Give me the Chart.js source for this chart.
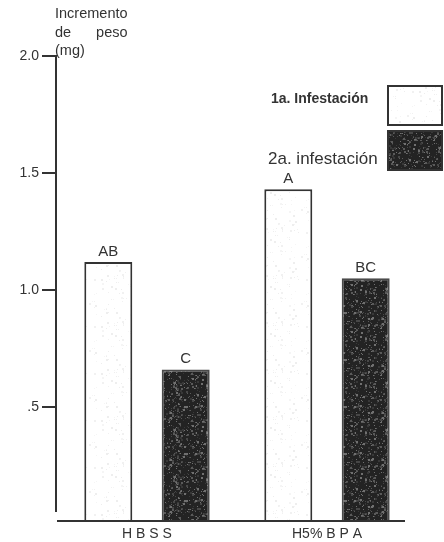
<!DOCTYPE html>
<html>
<head>
<meta charset="utf-8">
<script src="https://cdn.jsdelivr.net/npm/chart.js@4.4.1/dist/chart.umd.min.js"></script>
<style>
  html, body { margin: 0; padding: 0; background: #ffffff; }
  #chart { display: block; }
</style>
</head>
<body>
<canvas id="chart" width="444" height="542"></canvas>
<script>
// Weight gain (mg) per treatment, first and second infestation
const categories = ['H B S S', 'H5% B P A'];
const seriesNames = ['1a. Infestación', '2a. infestación'];
const firstInfestation = [1.12, 1.43];
const secondInfestation = [0.66, 1.05];
const firstLetters = ['AB', 'A'];
const secondLetters = ['C', 'BC'];
const yTicks = [0.5, 1.0, 1.5, 2.0];
const yTickLabels = ['.5', '1.0', '1.5', '2.0'];
const axisTitleLines = ['Incremento', 'de peso', '(mg)'];

const INK = '#333333';
const FONT = '"Liberation Sans", Arial, sans-serif';

// Grainy fill for bars and swatches (seeded so it is the same every time)
function speckle(base, shades, w, h, count, seed) {
  const c = document.createElement('canvas');
  c.width = w; c.height = h;
  const g = c.getContext('2d');
  g.fillStyle = base;
  g.fillRect(0, 0, w, h);
  let s = seed;
  const rnd = () => { s = (s * 16807) % 2147483647; return s / 2147483647; };
  for (let i = 0; i < count; i++) {
    g.fillStyle = shades[Math.floor(rnd() * shades.length)];
    const sz = rnd() < 0.7 ? 1 : 2;
    g.fillRect(Math.floor(rnd() * w), Math.floor(rnd() * h), sz, sz);
  }
  return g.createPattern(c, 'repeat');
}

const ctxEl = document.getElementById('chart');
const darkFill = speckle('#232323', ['#474747', '#5a5a5a', '#707070', '#383838'], 53, 47, 380, 12345);
const lightFill = speckle('#ffffff', ['#f1f1f1', '#eeeeee', '#f5f5f5'], 53, 47, 70, 777);

const decorations = {
  id: 'decorations',
  afterDatasetsDraw(chart) {
    const { ctx, chartArea } = chart;
    ctx.save();
    ctx.strokeStyle = INK;
    ctx.lineWidth = 2;
    // vertical axis
    ctx.beginPath();
    ctx.moveTo(chartArea.left - 1, chartArea.top - 1);
    ctx.lineTo(chartArea.left - 1, chartArea.bottom - 8);
    ctx.stroke();
    // baseline
    ctx.beginPath();
    ctx.moveTo(chartArea.left, chartArea.bottom + 1);
    ctx.lineTo(chartArea.right - 12, chartArea.bottom + 1);
    ctx.stroke();

    // axis title, middle line justified
    ctx.fillStyle = INK;
    ctx.font = '14.5px ' + FONT;
    ctx.textBaseline = 'middle';
    ctx.textAlign = 'left';
    const tx = 55, w0 = ctx.measureText(axisTitleLines[0]).width;
    ctx.fillText(axisTitleLines[0], tx, 14);
    const words = axisTitleLines[1].split(' ');
    ctx.fillText(words[0], tx, 33);
    ctx.textAlign = 'right';
    ctx.fillText(words[1], tx + w0, 33);
    ctx.textAlign = 'left';
    ctx.fillText(axisTitleLines[2], tx, 51);

    // group letters above bars
    ctx.font = '15px ' + FONT;
    ctx.textAlign = 'center';
    ctx.textBaseline = 'bottom';
    const letterSets = [firstLetters, secondLetters];
    chart.data.datasets.forEach((ds, di) => {
      chart.getDatasetMeta(di).data.forEach((bar, i) => {
        ctx.fillText(letterSets[di][i], bar.x, bar.y - 3);
      });
    });

    // legend: label on the left, swatch on the right
    const boxX = 388, boxW = 54, boxH = 39;
    const rows = [
      { top: 86, font: 'bold 14px ' + FONT, textX: 271, textY: 99 },
      { top: 131, font: '17px ' + FONT, textX: 268, textY: 159 }
    ];
    chart.data.datasets.forEach((ds, di) => {
      const r = rows[di];
      ctx.fillStyle = ds.backgroundColor;
      ctx.fillRect(boxX, r.top, boxW, boxH);
      ctx.strokeStyle = INK;
      ctx.lineWidth = 2;
      ctx.strokeRect(boxX, r.top, boxW, boxH);
      ctx.fillStyle = INK;
      ctx.font = r.font;
      ctx.textAlign = 'left';
      ctx.textBaseline = 'middle';
      ctx.fillText(ds.label, r.textX, r.textY);
    });
    ctx.restore();
  }
};

new Chart(ctxEl, {
  type: 'bar',
  data: {
    labels: categories,
    datasets: [
      {
        label: seriesNames[0],
        data: firstInfestation,
        backgroundColor: lightFill,
        borderColor: INK,
        borderWidth: 2
      },
      {
        label: seriesNames[1],
        data: secondInfestation,
        backgroundColor: darkFill,
        borderColor: '#4a4a4a',
        borderWidth: 2
      }
    ]
  },
  options: {
    responsive: false,
    animation: false,
    devicePixelRatio: 1,
    layout: { padding: { left: 0, right: 27, top: 56, bottom: 0 } },
    datasets: { bar: { categoryPercentage: 0.86, barPercentage: 0.62 } },
    plugins: { legend: { display: false }, tooltip: { enabled: false } },
    scales: {
      x: {
        grid: { display: false, drawTicks: false },
        border: { display: false },
        ticks: { color: INK, font: { family: FONT, size: 14 }, padding: 6 },
        afterFit(s) { s.height = 22; }
      },
      y: {
        min: 0.017,
        max: 2.0,
        afterBuildTicks(s) { s.ticks = yTicks.map(v => ({ value: v })); },
        grid: { drawOnChartArea: false, drawTicks: true, tickLength: 15, color: INK, lineWidth: 2 },
        border: { display: false },
        ticks: {
          color: INK,
          font: { family: FONT, size: 14 },
          padding: 3,
          callback: (v) => yTickLabels[yTicks.indexOf(v)]
        },
        afterFit(s) { s.width = 57; }
      }
    }
  },
  plugins: [decorations]
});
</script>
</body>
</html>
